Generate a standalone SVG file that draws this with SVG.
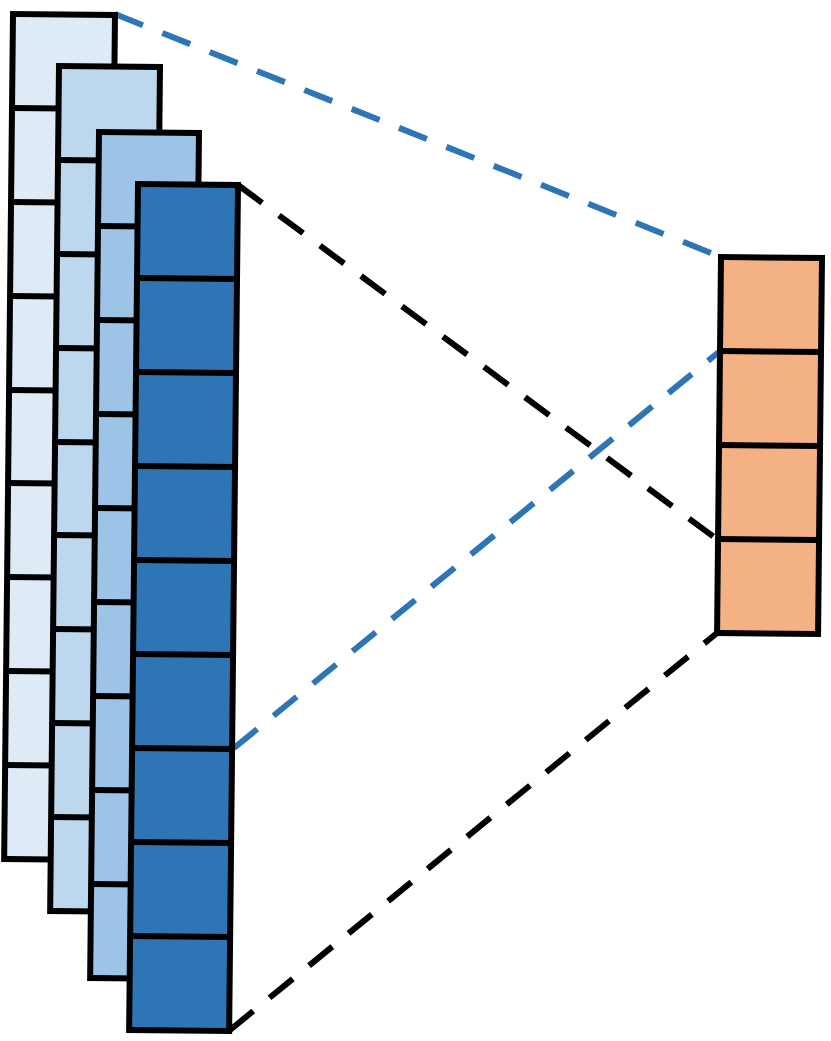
<svg xmlns="http://www.w3.org/2000/svg" width="831" height="1041" viewBox="0 0 831 1041">
<style>
.cell{stroke:#000;stroke-width:6;stroke-linejoin:miter}
.div{stroke:#000;stroke-width:6}
.c1{fill:#DEEBF7}.c2{fill:#BDD7EE}.c3{fill:#9DC3E6}.c4{fill:#2E75B6}.c5{fill:#F4B183}
.dash{fill:none;stroke-width:6;stroke-dasharray:30 21}
.blue{stroke:#2E75B6}.black{stroke:#000}
</style>
<g id="connectors">
<line class="dash blue" x1="115" y1="14" x2="721" y2="257"/>
<line class="dash blue" x1="234" y1="748" x2="720" y2="351"/>
<line class="dash black" x1="238" y1="185" x2="718" y2="540"/>
<line class="dash black" x1="230" y1="1030" x2="717" y2="633"/>
</g>
<g id="column1" transform="rotate(0.6 13 14)">
<rect class="cell c1" x="13" y="14" width="102" height="845"/>
<path class="div" d="M13 108H115M13 202H115M13 296H115M13 390H115M13 483H115M13 577H115M13 671H115M13 765H115"/>
</g>
<g id="column2" transform="rotate(0.6 59 66)">
<rect class="cell c2" x="59" y="66" width="101" height="845"/>
<path class="div" d="M59 160H160M59 254H160M59 348H160M59 442H160M59 535H160M59 629H160M59 723H160M59 817H160"/>
</g>
<g id="column3" transform="rotate(0.6 99 132)">
<rect class="cell c3" x="99" y="132" width="100" height="846"/>
<path class="div" d="M99 226H199M99 320H199M99 414H199M99 508H199M99 602H199M99 696H199M99 790H199M99 884H199"/>
</g>
<g id="column4" transform="rotate(0.6 138 184)">
<rect class="cell c4" x="138" y="184" width="100" height="846"/>
<path class="div" d="M138 278H238M138 372H238M138 466H238M138 560H238M138 654H238M138 748H238M138 842H238M138 936H238"/>
</g>
<g id="output" transform="rotate(0.6 721 257)">
<rect class="cell c5" x="721" y="257" width="101" height="376"/>
<path class="div" d="M721 351H822M721 445H822M721 539H822"/>
</g>
</svg>
